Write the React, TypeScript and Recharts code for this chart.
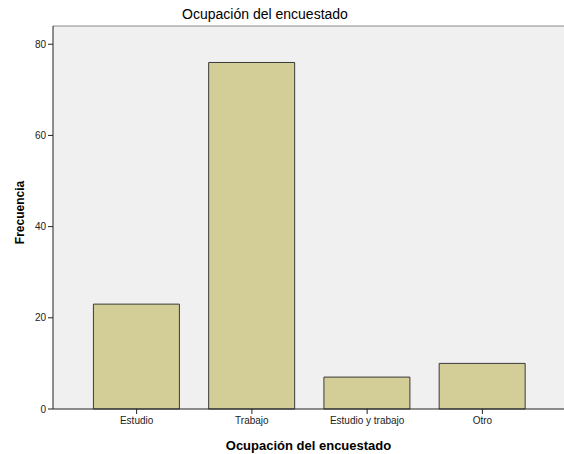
import { BarChart, Bar, XAxis, YAxis, CartesianGrid, Label, ReferenceLine } from "recharts"

const categories = ["Estudio", "Trabajo", "Estudio y trabajo", "Otro"]
const frecuencias = [23, 76, 7, 10]
const yTicks = [0, 20, 40, 60, 80]
const yMax = 84

const data = categories.map((name, i) => ({ name, value: frecuencias[i] }))

const font = "'Liberation Sans', Arial, sans-serif"

export default function App() {
	return (
		<div style={{ position: "absolute", left: 0, top: 0, width: 564, height: 454, background: "#fff", fontFamily: font, overflow: "hidden" }}>
			<div style={{ position: "absolute", left: 0, width: 530, top: 6, textAlign: "center", fontSize: 14, color: "#000", lineHeight: "16px" }}>
				Ocupación del encuestado
			</div>
			<BarChart
				width={564}
				height={454}
				data={data}
				margin={{ top: 26, right: 0, bottom: 0, left: 0 }}
				barCategoryGap="12.5%"
			>
				<CartesianGrid fill="#f0f0f0" horizontal={false} vertical={false} />
				<ReferenceLine y={yMax} stroke="#8a8a8a" ifOverflow="extendDomain" />
				<XAxis
					dataKey="name"
					height={45}
					padding={{ left: 26, right: 24 }}
					tickSize={5}
					tickMargin={3}
					tick={{ fontSize: 10, fill: "#222", fontFamily: font }}
					axisLine={{ stroke: "#222" }}
					tickLine={{ stroke: "#222" }}
				>
					<Label
						value="Ocupación del encuestado"
						position="insideBottom"
						offset={4}
						style={{ fontSize: 13, fontWeight: "bold", fill: "#000", fontFamily: font }}
					/>
				</XAxis>
				<YAxis
					width={53}
					domain={[0, yMax]}
					ticks={yTicks}
					tickSize={5}
					tickMargin={2}
					tick={{ fontSize: 10, fill: "#222", fontFamily: font }}
					axisLine={{ stroke: "#222" }}
					tickLine={{ stroke: "#222" }}
				>
					<Label
						value="Frecuencia"
						angle={-90}
						position="insideLeft"
						offset={20}
						textAnchor="middle"
						dy={-5}
						style={{ fontSize: 12, fontWeight: "bold", fill: "#000", fontFamily: font }}
					/>
				</YAxis>
				<Bar dataKey="value" fill="#d3ce98" stroke="#3a3a3a" strokeWidth={1} isAnimationActive={false} />
			</BarChart>
		</div>
	)
}
